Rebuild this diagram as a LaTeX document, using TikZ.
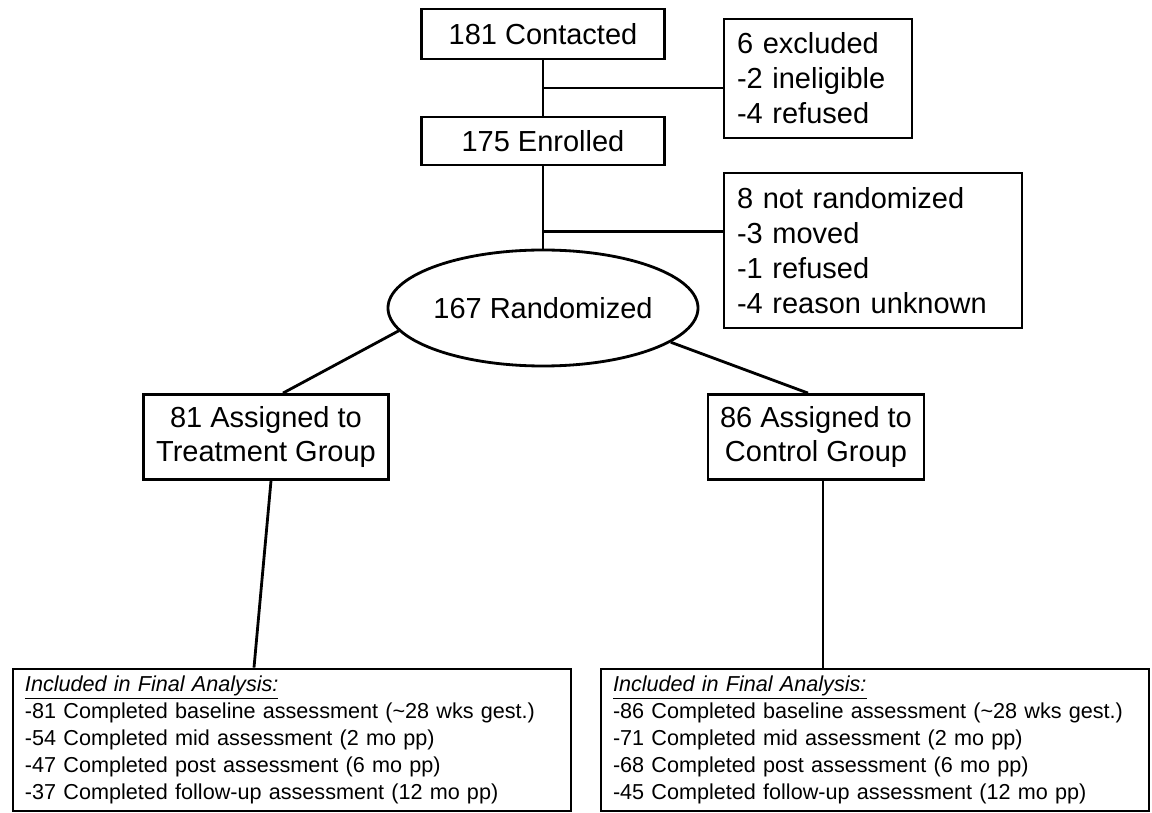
\documentclass[tikz,border=0pt]{standalone}
\usepackage{fontspec}
\setmainfont{Liberation Sans}
\usetikzlibrary{shapes.geometric,calc}
\begin{document}
\begin{tikzpicture}[node distance=2cm,
  box/.style={draw, rectangle, line width=1.6pt, font=\fontsize{16.5}{19.9}\selectfont},
  sidebox/.style={box, align=left, inner xsep=0.26cm},
  finbox/.style={draw, rectangle, line width=1.6pt, align=left, inner xsep=0.24cm,
    minimum height=2.84cm, font=\fontsize{12.3}{15.4}\selectfont},
  link/.style={line width=1.6pt}]
  \useasboundingbox (-10.86,0.68) rectangle (12.18,-15.58);

  \node (contact) [box, minimum width=4.86cm, minimum height=1cm] {181 Contacted};
  \node (enrol) [box, minimum width=4.86cm, minimum height=0.96cm, below of=contact, yshift=-0.14cm] {175 Enrolled};
  \node (excl) [sidebox, text width=3.24cm, minimum height=2.38cm, right of=contact, xshift=3.5cm, yshift=-0.89cm] {6 excluded\\-2 ineligible\\-4 refused};
  \node (notrand) [sidebox, text width=5.44cm, minimum height=3.1cm, right of=enrol, xshift=4.6cm, yshift=-2.19cm] {8 not randomized\\-3 moved\\-1 refused\\-4 reason unknown};
  \node (rand) [box, ellipse, inner sep=0pt, minimum width=5.44cm, minimum height=2.32cm, below of=enrol, yshift=-1.34cm] {167 Randomized};

  \node (treat) [box, align=center, minimum width=4.9cm, minimum height=1.7cm, below of=rand, xshift=-5.54cm, yshift=-0.58cm] {81 Assigned to\\Treatment Group};
  \node (ctrl) [box, align=center, minimum width=4.32cm, minimum height=1.7cm, below of=rand, xshift=5.46cm, yshift=-0.58cm] {86 Assigned to\\Control Group};

  \node (finL) [finbox, text width=10.68cm, below of=treat, xshift=0.52cm, yshift=-4.06cm] {\underline{\textit{Included in Final Analysis:}}\\
    -81 Completed baseline assessment (\textasciitilde28 wks gest.)\\
    -54 Completed mid assessment (2 mo pp)\\
    -47 Completed post assessment (6 mo pp)\\
    -37 Completed follow-up assessment (12 mo pp)};
  \node (finR) [finbox, text width=10.48cm, below of=ctrl, xshift=1.18cm, yshift=-4.06cm] {\underline{\textit{Included in Final Analysis:}}\\
    -86 Completed baseline assessment (\textasciitilde28 wks gest.)\\
    -71 Completed mid assessment (2 mo pp)\\
    -68 Completed post assessment (6 mo pp)\\
    -45 Completed follow-up assessment (12 mo pp)};

  % trunk and side branches
  \draw[link] (contact) -- (enrol);
  \coordinate (j1) at ($(contact.south)!0.5!(enrol.north)$);
  \draw[link] (j1) -- (j1 -| excl.west);
  \draw[link] (enrol) -- (rand);
  \coordinate (j2) at ($(enrol.south)!0.79!(rand.north)$);
  \draw[link] (j2) -- (j2 -| notrand.west);

  % the two arms
  \draw[link] (rand.189.7) -- ([xshift=0.34cm]treat.north);
  \draw[link] (rand.345.7) -- ([xshift=-0.16cm]ctrl.north);
  \draw[link] ([xshift=0.1cm]treat.south) -- ([xshift=-0.76cm]finL.north);
  \draw[link] ([xshift=0.14cm]ctrl.south) -- ([xshift=-1.04cm]finR.north);
\end{tikzpicture}
\end{document}
